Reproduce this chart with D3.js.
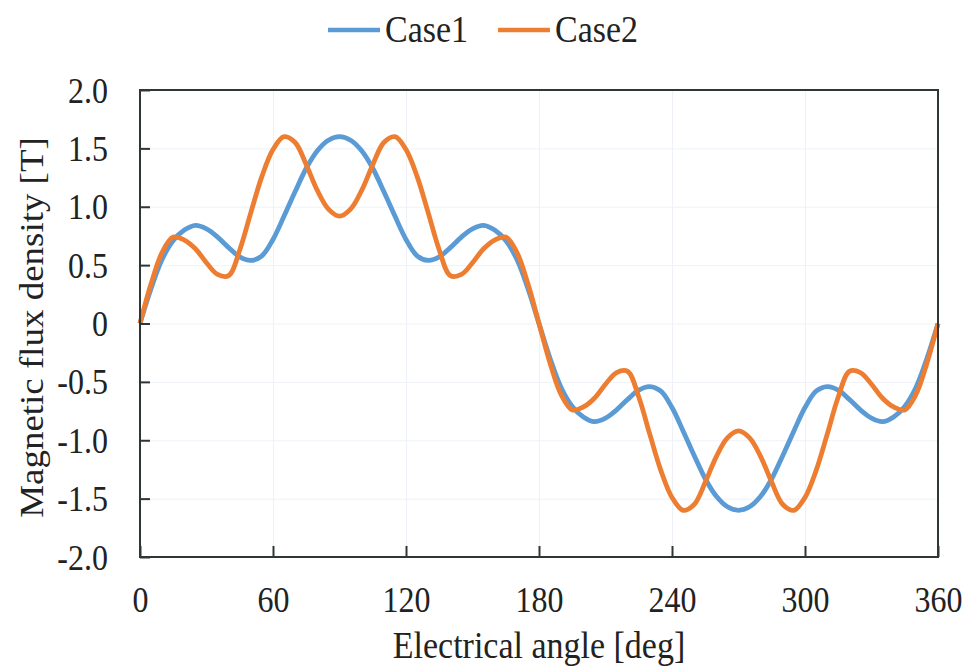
<!DOCTYPE html>
<html>
<head>
<meta charset="utf-8">
<script src="https://cdn.jsdelivr.net/npm/d3@7"></script>
<style>
  html, body { margin: 0; padding: 0; background: #fff; }
  svg { display: block; }
  text { font-family: "Liberation Serif", "Times New Roman", serif; fill: #222; }
</style>
</head>
<body>
<div id="chart"></div>
<script>
const width = 968;
const height = 666;

// electrical angle samples [deg]
const angles = d3.range(0, 361, 5);

const case1 = [
  0, 0.30, 0.55, 0.71, 0.80, 0.84, 0.81, 0.74, 0.65, 0.57, 0.54, 0.58, 0.72, 0.92, 1.13, 1.33, 1.48, 1.57, 1.60,
  1.57, 1.48, 1.33, 1.13, 0.92, 0.72, 0.58, 0.54, 0.57, 0.65, 0.74, 0.81, 0.84, 0.80, 0.71, 0.55, 0.30, 0,
  -0.30, -0.55, -0.71, -0.80, -0.84, -0.81, -0.74, -0.65, -0.57, -0.54, -0.58, -0.72, -0.92, -1.13, -1.33, -1.48, -1.57, -1.60,
  -1.57, -1.48, -1.33, -1.13, -0.92, -0.72, -0.58, -0.54, -0.57, -0.65, -0.74, -0.81, -0.84, -0.80, -0.71, -0.55, -0.30, 0
];

const case2 = [
  0, 0.34, 0.61, 0.74, 0.715, 0.64, 0.52, 0.42, 0.41, 0.63, 0.95, 1.26, 1.49, 1.60, 1.55, 1.36, 1.14, 0.98, 0.92,
  0.98, 1.14, 1.36, 1.55, 1.60, 1.49, 1.26, 0.95, 0.63, 0.41, 0.42, 0.52, 0.64, 0.715, 0.74, 0.61, 0.34, 0,
  -0.34, -0.61, -0.74, -0.715, -0.64, -0.52, -0.42, -0.41, -0.63, -0.95, -1.26, -1.49, -1.60, -1.55, -1.36, -1.14, -0.98, -0.92,
  -0.98, -1.14, -1.36, -1.55, -1.60, -1.49, -1.26, -0.95, -0.63, -0.41, -0.42, -0.52, -0.64, -0.715, -0.74, -0.61, -0.34, 0
];

const xTicks = [0, 60, 120, 180, 240, 300, 360];
const yTicks = [-2, -1.5, -1, -0.5, 0, 0.5, 1, 1.5, 2];
const yTickLabels = ['-2.0', '-1.5', '-1.0', '-0.5', '0', '0.5', '1.0', '1.5', '2.0'];

const seriesNames = ['Case1', 'Case2'];
const seriesColors = ['#5b9bd5', '#ed7d31'];

function createChart() {
  const margin = { top: 90, right: 30, bottom: 109, left: 140 };
  const area = {
    top: margin.top,
    left: margin.left,
    right: width - margin.right,
    bottom: height - margin.bottom,
  };
  area.width = area.right - area.left;
  area.height = area.bottom - area.top;

  const svg = d3.select('#chart')
    .append('svg')
    .attr('width', width)
    .attr('height', height);

  const xScale = d3.scaleLinear().domain([0, 360]).range([area.left, area.right]);
  const yScale = d3.scaleLinear().domain([-2, 2]).range([area.bottom, area.top]);

  // faint gridlines
  svg.append('g')
    .attr('transform', `translate(${area.left},0)`)
    .call(d3.axisLeft(yScale).tickValues(yTicks).tickFormat('').tickSize(-area.width))
    .call(g => g.select('.domain').remove())
    .selectAll('line').attr('stroke', '#eef2f8').attr('stroke-width', 1);

  svg.append('g')
    .attr('transform', `translate(0,${area.bottom})`)
    .call(d3.axisBottom(xScale).tickValues(xTicks).tickFormat('').tickSize(-area.height))
    .call(g => g.select('.domain').remove())
    .selectAll('line').attr('stroke', '#eef2f8').attr('stroke-width', 1);

  // lines
  const line = d3.line()
    .x((d, i) => xScale(angles[i]))
    .y(d => yScale(d))
    .curve(d3.curveCatmullRom.alpha(0.5));

  [case1, case2].forEach((vals, i) => {
    svg.append('path')
      .datum(vals)
      .attr('fill', 'none')
      .attr('stroke', seriesColors[i])
      .attr('stroke-width', 4.8)
      .attr('stroke-linejoin', 'round')
      .attr('d', line);
  });

  // frame
  svg.append('rect')
    .attr('x', area.left)
    .attr('y', area.top)
    .attr('width', area.width)
    .attr('height', area.height)
    .attr('fill', 'none')
    .attr('stroke', '#2e3636')
    .attr('stroke-width', 2);

  // x axis (ticks inside)
  const xAxis = svg.append('g')
    .attr('transform', `translate(0,${area.bottom})`)
    .call(d3.axisBottom(xScale).tickValues(xTicks).tickSizeInner(-11).tickSizeOuter(0));
  xAxis.select('.domain').remove();
  xAxis.selectAll('line').attr('stroke', '#2e3636').attr('stroke-width', 2);
  xAxis.selectAll('text')
    .attr('y', null)
    .attr('dy', null)
    .attr('transform', 'translate(0,55) scale(1,1.12)')
    .style('font-size', '32px')
    .attr('fill', '#222');

  // y axis (ticks inside)
  const yAxis = svg.append('g')
    .attr('transform', `translate(${area.left},0)`)
    .call(d3.axisLeft(yScale).tickValues(yTicks).tickSizeInner(-10).tickSizeOuter(0)
      .tickFormat((d, i) => yTickLabels[i]));
  yAxis.select('.domain').remove();
  yAxis.selectAll('line').attr('stroke', '#2e3636').attr('stroke-width', 2);
  yAxis.selectAll('text')
    .attr('x', null)
    .attr('dy', null)
    .attr('transform', 'translate(-32,12) scale(1,1.12)')
    .style('font-size', '32px')
    .attr('fill', '#222');

  // axis titles
  svg.append('text')
    .attr('transform', `translate(${(area.left + area.right) / 2},658) scale(1,1.12)`)
    .attr('text-anchor', 'middle')
    .style('font-size', '34px')
    .text('Electrical angle [deg]');

  svg.append('text')
    .attr('transform', `translate(43,${(area.top + area.bottom) / 2 + 4}) scale(1,1.12) rotate(-90)`)
    .attr('text-anchor', 'middle')
    .style('font-size', '33px')
    .text('Magnetic flux density [T]');

  // legend
  const legendX = [328, 498];
  const legend = svg.append('g');
  seriesNames.forEach((name, i) => {
    legend.append('line')
      .attr('x1', legendX[i]).attr('x2', legendX[i] + 52)
      .attr('y1', 30).attr('y2', 30)
      .attr('stroke', seriesColors[i])
      .attr('stroke-width', 4.5);
    legend.append('text')
      .attr('transform', `translate(${legendX[i] + 57},42) scale(1,1.12)`)
      .style('font-size', '34px')
      .text(name);
  });
}

document.addEventListener('DOMContentLoaded', () => {
  createChart();
});
</script>
</body>
</html>
